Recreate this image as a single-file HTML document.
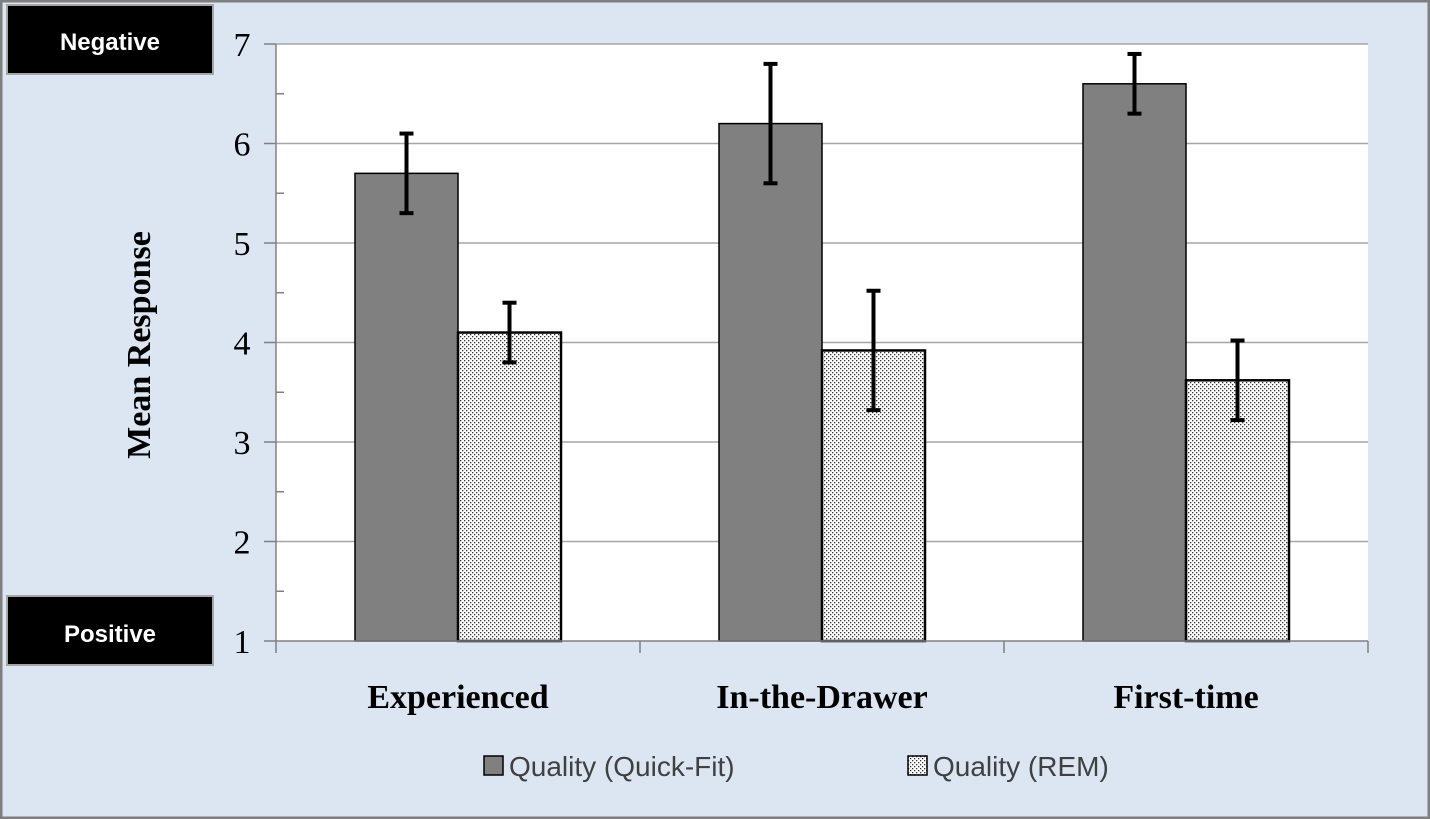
<!DOCTYPE html>
<html><head><meta charset="utf-8"><style>
body{margin:0;background:#dce6f2}
svg{display:block}
</style></head><body>
<svg width="1430" height="819" viewBox="0 0 1430 819" xmlns="http://www.w3.org/2000/svg">
<defs>
<pattern id="dots" width="4" height="4" patternUnits="userSpaceOnUse">
<rect width="4" height="4" fill="#fff"/>
<rect x="0" y="0" width="1.3" height="1.3" fill="#333"/>
<rect x="2" y="2" width="1.3" height="1.3" fill="#333"/>
</pattern>
</defs>
<rect x="1" y="1" width="1428" height="817" fill="#dce6f2" stroke="#7f7f7f" stroke-width="3"/>
<rect x="276" y="44" width="1092" height="597" fill="#fff"/>
<g id="grid"></g>
<g id="bars"></g>
<g id="axes"></g>
<text x="150" y="345" transform="rotate(-90 150 345)" text-anchor="middle" font-family="Liberation Serif, serif" font-weight="bold" font-size="34" fill="#000">Mean Response</text>
<g>
<rect x="7" y="5" width="206" height="69" fill="#000" stroke="#a6a6a6" stroke-width="2"/>
<text x="110" y="50" text-anchor="middle" font-family="Liberation Sans, sans-serif" font-weight="bold" font-size="24" fill="#fff">Negative</text>
</g>
<g>
<rect x="7" y="596" width="206" height="69" fill="#000" stroke="#a6a6a6" stroke-width="2"/>
<text x="110" y="642" text-anchor="middle" font-family="Liberation Sans, sans-serif" font-weight="bold" font-size="24" fill="#fff">Positive</text>
</g>
<g>
<g>
<rect x="484" y="756" width="19" height="19" fill="#808080" stroke="#000" stroke-width="1.5"/>
<text x="509" y="776" font-family="Liberation Sans, sans-serif" font-size="28" fill="#404040">Quality (Quick-Fit)</text>
</g>
<g>
<rect x="908" y="756" width="19" height="19" fill="url(#dots)" stroke="#000" stroke-width="1.5"/>
<text x="933" y="776" font-family="Liberation Sans, sans-serif" font-size="28" fill="#404040">Quality (REM)</text>
</g>
</g>
</svg>
<script>
const categories=["Experienced","In-the-Drawer","First-time"];
const quickFit=[5.7,6.2,6.6];
const quickFitErr=[0.4,0.6,0.3];
const rem=[4.1,3.92,3.62];
const remErr=[0.3,0.6,0.4];
const yTicks=[1,2,3,4,5,6,7];

const NS="http://www.w3.org/2000/svg";
const X0=276,X1=1368,Y0=641,Y1=44,YMIN=1,YMAX=7;
function y(v){return Y0-(v-YMIN)/(YMAX-YMIN)*(Y0-Y1);}
const band=(X1-X0)/categories.length;
function xc(i){return X0+band*(i+0.5);}
function mk(tag,attrs,parent){const e=document.createElementNS(NS,tag);for(const k in attrs)e.setAttribute(k,attrs[k]);parent.appendChild(e);return e;}
const grid=document.getElementById('grid'),bars=document.getElementById('bars'),axes=document.getElementById('axes');
yTicks.forEach(t=>{
  if(t>YMIN){const l=mk('line',{x1:X0,x2:X1,y1:y(t),y2:y(t),stroke:'#a6a6a6','stroke-width':1.5},grid);
  
  }
  const tk=mk('line',{x1:X0-12,x2:X0,y1:y(t),y2:y(t),stroke:'#808080','stroke-width':1.5},axes);
  
  
  if(t<YMAX){const m=mk('line',{x1:X0,x2:X0+8,y1:y(t+0.5),y2:y(t+0.5),stroke:'#808080','stroke-width':1.5},axes);
  
  }
  const tx=mk('text',{x:X0-34,y:y(t)+12,'text-anchor':'middle','font-family':'Liberation Serif, serif','font-size':34,fill:'#000'},axes);
  tx.textContent=t;
  
  
});
const ya=mk('line',{x1:X0,x2:X0,y1:Y1,y2:Y0,stroke:'#808080','stroke-width':1.5},axes);


const xa=mk('line',{x1:X0,x2:X1,y1:Y0,y2:Y0,stroke:'#808080','stroke-width':1.5},axes);


const bw=103;
function err(cx,v,e,name){
  const g=mk('g',{stroke:'#000','stroke-width':4},bars);
  
  
  mk('line',{x1:cx,x2:cx,y1:y(v+e),y2:y(v-e)},g);
  mk('line',{x1:cx-7,x2:cx+7,y1:y(v+e),y2:y(v+e)},g);
  mk('line',{x1:cx-7,x2:cx+7,y1:y(v-e),y2:y(v-e)},g);
}
categories.forEach((c,i)=>{
  const cx=xc(i);
  const b1=mk('rect',{x:cx-bw,y:y(quickFit[i]),width:bw,height:Y0-y(quickFit[i]),fill:'#808080',stroke:'#000','stroke-width':1.5},bars);
  
  
  const b2=mk('rect',{x:cx,y:y(rem[i]),width:bw,height:Y0-y(rem[i]),fill:'url(#dots)',stroke:'#000','stroke-width':2.5},bars);
  
  
  err(cx-bw/2,quickFit[i],quickFitErr[i],'error-bar-quick-fit');
  err(cx+bw/2,rem[i],remErr[i],'error-bar-rem');
  const tk=mk('line',{x1:X0+band*(i+1),x2:X0+band*(i+1),y1:Y0,y2:Y0+12,stroke:'#808080','stroke-width':1.5},axes);
  
  
  const t=mk('text',{x:cx,y:708,'text-anchor':'middle','font-family':'Liberation Serif, serif','font-weight':'bold','font-size':34,fill:'#000'},axes);
  t.textContent=c;
  
  
});
const t0=mk('line',{x1:X0,x2:X0,y1:Y0,y2:Y0+12,stroke:'#808080','stroke-width':1.5},axes);


</script>
</body></html>
